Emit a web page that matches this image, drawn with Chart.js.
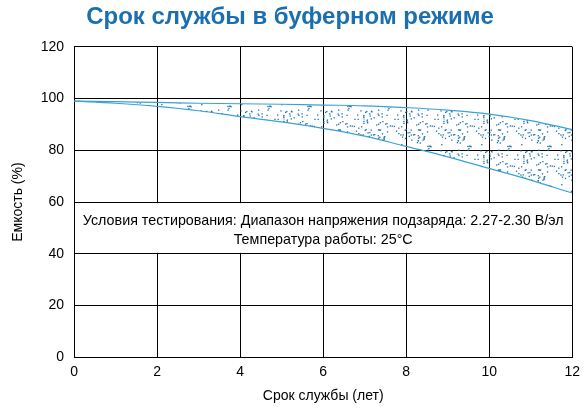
<!DOCTYPE html>
<html><head><meta charset="utf-8">
<script src="https://cdn.jsdelivr.net/npm/chart.js@4"></script>
<style>body{margin:0;background:#fff}#w{width:586px;height:409px}</style></head>
<body><div id="w"><canvas id="c"></canvas></div>
<script>
const years=[0,1,2,3,4,5,6,7,8,9,10,11,12];
const upper=[99,98.8,98.5,98.2,98,97.8,97.5,97.2,96.5,95.5,94,91.5,88];
const lower=[99,98.2,97,95.3,93,91,88.5,85.5,81.5,77.5,73,68.5,63.5];
const xTicks=[0,2,4,6,8,10,12];
const note1='Условия тестирования: Диапазон напряжения подзаряда: 2.27-2.30 В/эл';
const note2='Температура работы: 25°C';
function dotPattern(){
  const p=document.createElement('canvas');p.width=40;p.height=40;const g=p.getContext('2d');
  g.fillStyle='#1f6fa8';let s=7;
  for(let i=0;i<80;i++){s=(s*9301+49297)%233280;const x=s/233280*40;s=(s*9301+49297)%233280;const y=s/233280*40;g.fillRect(x,y,1.3,1.3);}
  return g.createPattern(p,'repeat');
}
const c=document.getElementById('c');
const pat=dotPattern();
const boxPlugin={id:'box',beforeDatasetsDraw(ch){
  const {ctx,scales:{x,y}}=ch;const t=y.getPixelForValue(60),b=y.getPixelForValue(40);
  ctx.save();ctx.fillStyle='#fff';ctx.fillRect(x.left+1,t+1,x.right-x.left-2,b-t-2);
  ctx.fillStyle='#000';ctx.font='14.3px "Liberation Sans", Arial';ctx.textAlign='center';ctx.textBaseline='middle';
  const cx=(x.left+x.right)/2;ctx.fillText(note1,cx,t+19);ctx.fillText(note2,cx,t+38);ctx.restore();}};
new Chart(c,{type:'line',data:{labels:years,datasets:[
 {data:upper,borderColor:'#3ba3d6',borderWidth:1.2,pointRadius:0,tension:0.4,fill:'+1',backgroundColor:pat},
 {data:lower,borderColor:'#3ba3d6',borderWidth:1.2,pointRadius:0,tension:0.4,fill:false}]},
 options:{animation:false,responsive:true,maintainAspectRatio:false,
  layout:{padding:{right:12,top:0,left:6}},
  plugins:{legend:{display:false},tooltip:{enabled:false},
   title:{display:true,text:'Срок службы в буферном режиме',color:'#1a6fb0',font:{family:'"Liberation Sans", Arial',size:24,weight:'bold'},padding:{top:3,bottom:15}}},
  scales:{x:{type:'linear',min:0,max:12,afterBuildTicks(a){a.ticks=xTicks.map(v=>({value:v}));},
    grid:{color:'#000',drawTicks:false},border:{color:'#000'},
    ticks:{color:'#000',font:{size:14,family:'"Liberation Sans", Arial'},padding:6},
    title:{display:true,text:'Срок службы (лет)',color:'#000',font:{size:14,family:'"Liberation Sans", Arial'},padding:{top:2}}},
   y:{min:0,max:120,ticks:{stepSize:20,color:'#000',font:{size:14,family:'"Liberation Sans", Arial'},padding:10},
    grid:{color:'#000',drawTicks:false},border:{color:'#000'},
    title:{display:true,text:'Емкость (%)',color:'#000',font:{size:14,family:'"Liberation Sans", Arial'}}}}},
 plugins:[boxPlugin]});
</script></body></html>
